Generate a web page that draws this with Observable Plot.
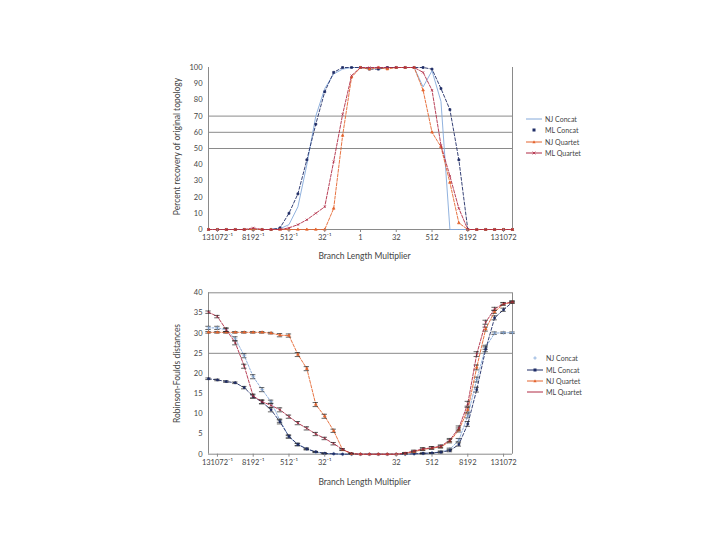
<!DOCTYPE html>
<html><head><meta charset="utf-8">
<script src="https://cdn.jsdelivr.net/npm/d3@7"></script>
<script src="https://cdn.jsdelivr.net/npm/@observablehq/plot@0.6"></script>
<style>
body{margin:0;background:#fff;}
#wrap{position:relative;width:720px;height:540px;overflow:hidden;font-family:Lato,"Open Sans",sans-serif;background:#fff;}
.chart{position:absolute;left:0;}
.lg{position:absolute;display:flex;align-items:center;height:10px;font-size:7px;color:#444;white-space:nowrap;}
.lg svg{margin-right:2px;}
</style></head><body><div id="wrap"></div>
<script>
// ---------- data ----------
const seriesNames = ["NJ Concat", "ML Concat", "NJ Quartet", "ML Quartet"];
const tickPos = [1, 5, 9, 13, 17, 21, 25, 29, 33];
const tickLabels = ["131072⁻¹", "8192⁻¹", "512⁻¹", "32⁻¹", "1", "32", "512", "8192", "131072"];
const tickPosBottom = [1, 5, 9, 13, 21, 25, 29, 33];

const yTicksTop = [0, 10, 20, 30, 40, 50, 60, 70, 80, 90, 100];
const gridTop = [50, 60, 70];
const yTicksBottom = [0, 5, 10, 15, 20, 25, 30, 35, 40];
const gridBottom = [25, 40];

// Percent recovery of original topology (one value per multiplier category)
const njConcatTop  = [0,0,0,0,0,0,0,0, 0.5,3,14,40,70,87,96,99, 100,100,100,100,100,100,100,100, 88,98,79, 0,0,0,0,0,0,0,0];
const mlConcatTop  = [0,0,0,0,0,0,0,0, 1,10,22,43,65,85,97,100, 100,100,99,99,100,100,100,100, 100,99,87,74,43, 0,0,0,0,0,0];
const njQuartetTop = [0,0,0,0,0,0,0,0,0,0,0,0,0,0, 13,58,94,100, 99,100,99,100,100,100, 86,60,51,29,4, 0,0,0,0,0,0];
const mlQuartetTop = [0,0,0,0,0,1,0,0,0, 1,3,6,10,14,42,71,95, 100,100,100,100,100,100,100, 97,86,52,33,13, 0,0,0,0,0,0];

// Robinson-Foulds distances
const njConcatBot  = [31.3,31.3,30.8,28.6,24.4,19.2,16,13,8.3,4.3,2.4,1.3,0.5,0.2,0.1, 0,0,0,0,0,0,0,0, 0.1,0.2,0.3,0.6,1.2,3.5,9.5,18.5,26.5,30,30.1,30.1];
const mlConcatBot  = [18.7,18.4,18,17.7,16.5,14.3,12.9,11,8,4.4,2.4,1.3,0.6,0.2,0.1, 0,0,0,0,0,0,0,0, 0.1,0.2,0.3,0.5,0.9,2.4,7.5,16,26,33.8,35.8,37.7];
const njQuartetBot = [30.2,30.2,30.2,30.2,30.2,30.2,30.2,30,29.5,29.4,24.7,21.2,12.3,9.4,5.8,1.1,0.1, 0,0,0,0,0, 0.2,0.6,1.2,1.5,1.8,3.2,6,11,21.5,31,35.3,37.2,37.7];
const mlQuartetBot = [35.2,34.1,30.8,27.6,21.8,14.4,13,12.1,11,9.3,7.7,6.4,5,3.9,2.6,1.2,0.2, 0,0,0,0,0, 0.3,0.8,1.3,1.6,2,3.5,6.5,12.5,24.8,32.7,36,37.3,37.7];

// error bar half-widths (bottom chart)
const errNJC = [0.4,0.4,0.5,0.5,0.5,0.5,0.5,0.4,0.4,0.3,0.3,0.2,0.1,0.1,0, 0,0,0,0,0,0,0,0, 0,0.1,0.1,0.2,0.3,0.4,0.5,0.6,0.5,0.3,0.2,0.2];
const errMLC = [0.2,0.2,0.2,0.2,0.3,0.4,0.4,0.5,0.5,0.4,0.3,0.2,0.1,0.1,0, 0,0,0,0,0,0,0,0, 0,0.1,0.1,0.2,0.3,0.4,0.6,0.6,0.6,0.5,0.4,0.3];
const errNJQ = [0.2,0.2,0.2,0.2,0.2,0.2,0.2,0.2,0.4,0.4,0.5,0.5,0.5,0.5,0.4,0.2,0.1, 0,0,0,0,0, 0.1,0.2,0.3,0.3,0.3,0.4,0.5,0.6,0.6,0.5,0.4,0.3,0.2];
const errMLQ = [0.3,0.3,0.4,0.5,0.5,0.5,0.5,0.5,0.5,0.4,0.4,0.4,0.4,0.3,0.3,0.2,0.1, 0,0,0,0,0, 0.1,0.2,0.3,0.3,0.3,0.4,0.5,0.6,0.6,0.5,0.4,0.3,0.2];

// ---------- styles ----------
const colors = {"NJ Concat": "#84a9da", "ML Concat": "#1f2d66", "NJ Quartet": "#e4642e", "ML Quartet": "#b02a44"};
const lastIdx = njConcatTop.length - 1;
const fmtTick = (d) => tickLabels[tickPos.indexOf(d)];

function rows(vals, errs) { return vals.map((v, i) => ({i, v, e: errs ? errs[i] : 0})); }

function seriesMarks(data, name, opts) {
  const marks = [];
  marks.push(Plot.line(data, {x: "i", y: "v", stroke: colors[name], strokeWidth: opts.sw || 0.9, strokeDasharray: opts.dash || null}));
  if (opts.errors) {
    const eb = data.filter(d => d.e > 0);
    const ebColor = "#222";
    marks.push(Plot.ruleX(eb, {x: "i", y1: d => d.v - d.e, y2: d => d.v + d.e, stroke: ebColor, strokeWidth: 0.7}));
    marks.push(Plot.ruleY(eb, {y: d => d.v - d.e, x1: d => d.i - 0.3, x2: d => d.i + 0.3, stroke: ebColor, strokeWidth: 0.7}));
    marks.push(Plot.ruleY(eb, {y: d => d.v + d.e, x1: d => d.i - 0.3, x2: d => d.i + 0.3, stroke: ebColor, strokeWidth: 0.7}));
  }
  if (opts.symbol) {
    marks.push(Plot.dot(data, {x: "i", y: "v", symbol: opts.symbol, r: opts.r || 1.1, stroke: colors[name], fill: colors[name], strokeWidth: 0.7}));
  }
  return marks;
}

function chart(cfg) {
  return Plot.plot({
    width: 720, height: 270,
    marginLeft: 208, marginRight: 208, marginTop: cfg.mt, marginBottom: cfg.mb,
    style: {fontFamily: "Lato, 'Open Sans', sans-serif", background: "transparent", overflow: "visible"},
    x: {type: "linear", domain: [0, lastIdx]},
    y: {type: "linear", domain: cfg.yDomain},
    marks: [
      Plot.ruleY(cfg.grid, {stroke: "#8a8a8a", strokeWidth: 1}),
      Plot.ruleX([0, lastIdx], {stroke: "#8a8a8a", strokeWidth: 1}),
      Plot.ruleY([cfg.yDomain[0]], {stroke: "#8a8a8a", strokeWidth: 1}),
      ...cfg.series,
      Plot.axisX(cfg.xTicks, {tickFormat: fmtTick, tickSize: 3, tickPadding: 2, fontSize: 7.5, label: null, stroke: "#8a8a8a", fill: "#444"}),
      Plot.axisY(cfg.yTicks, {tickSize: 0, tickPadding: 6, fontSize: 7.5, label: null, fill: "#444"}),
      Plot.text([cfg.xTitle], {text: d => d, frameAnchor: "bottom", dy: cfg.xTitleDy, dx: 4, fontSize: 8.5, fill: "#444"}),
      Plot.text([cfg.yTitle], {text: d => d, frameAnchor: "left", textAnchor: "middle", lineAnchor: "middle", rotate: -90, dx: -31, dy: cfg.yTitleDy || 0, fontSize: 8.5, fill: "#444"})
    ]
  });
}

const wrap = document.getElementById("wrap");

const topChart = chart({
  mt: 67, mb: 41, yDomain: [0, 100], grid: gridTop, yTicks: yTicksTop, xTicks: tickPos,
  xTitle: "Branch Length Multiplier", xTitleDy: 29, yTitle: "Percent recovery of original topology", yTitleDy: -2,
  series: [
    ...seriesMarks(rows(njConcatTop), "NJ Concat", {}),
    ...seriesMarks(rows(mlConcatTop), "ML Concat", {dash: "3,2", symbol: "square", r: 1.1}),
    ...seriesMarks(rows(njQuartetTop), "NJ Quartet", {dash: "3,1.5", symbol: "triangle", r: 1.0}),
    ...seriesMarks(rows(mlQuartetTop), "ML Quartet", {dash: "3,1.5", symbol: "times", r: 1.1})
  ]
});
topChart.classList.add("chart"); topChart.style.top = "0px";
wrap.appendChild(topChart);

const botChart = chart({
  mt: 22.3, mb: 86.3, yDomain: [0, 40], grid: gridBottom, yTicks: yTicksBottom, xTicks: tickPosBottom,
  xTitle: "Branch Length Multiplier", xTitleDy: 31, yTitle: "Robinson-Foulds distances",
  series: [
    ...seriesMarks(rows(njConcatBot, errNJC), "NJ Concat", {dash: "2,1.5", symbol: "plus", r: 1.4, errors: true}),
    ...seriesMarks(rows(mlConcatBot, errMLC), "ML Concat", {dash: "3,2", symbol: "square", r: 1.0, errors: true}),
    ...seriesMarks(rows(njQuartetBot, errNJQ), "NJ Quartet", {dash: "3,1.5", symbol: "triangle", r: 1.0, errors: true}),
    ...seriesMarks(rows(mlQuartetBot, errMLQ), "ML Quartet", {dash: "3,1.5", symbol: "times", r: 1.1, errors: true})
  ]
});
botChart.classList.add("chart"); botChart.style.top = "270px";
wrap.appendChild(botChart);

// ---------- legends ----------
function legend(x, ys, items) {
  items.forEach((it, k) => {
    const div = document.createElement("div");
    div.className = "lg";
    div.style.left = x + "px";
    div.style.top = (ys[k] - 5) + "px";
    const c = colors[it.name];
    let svg = `<svg width="18" height="10">`;
    if (it.line) svg += `<line x1="1" y1="5" x2="17" y2="5" stroke="${c}" stroke-width="1"/>`;
    if (it.mark === "square") svg += `<rect x="7.5" y="3.5" width="3" height="3" fill="${c}"/>`;
    if (it.mark === "triangle") svg += `<path d="M9,3.3 L10.6,6.2 L7.4,6.2 Z" fill="${c}"/>`;
    if (it.mark === "times") svg += `<path d="M7.6,3.6 L10.4,6.4 M10.4,3.6 L7.6,6.4" stroke="${c}" stroke-width="0.8"/>`;
    if (it.mark === "plus") svg += `<path d="M9,3.3 L9,6.7 M7.3,5 L10.7,5" stroke="${c}" stroke-width="0.8"/>`;
    svg += `</svg>`;
    div.innerHTML = svg + `<span>${it.name}</span>`;
    wrap.appendChild(div);
  });
}
legend(525, [119, 130, 141.5, 152.5], [
  {name: seriesNames[0], line: true},
  {name: seriesNames[1], mark: "square"},
  {name: seriesNames[2], line: true, mark: "triangle"},
  {name: seriesNames[3], line: true, mark: "times"}
]);
legend(526, [358, 369.5, 381, 392], [
  {name: seriesNames[0], mark: "plus"},
  {name: seriesNames[1], line: true, mark: "square"},
  {name: seriesNames[2], line: true, mark: "triangle"},
  {name: seriesNames[3], line: true}
]);
</script></body></html>
